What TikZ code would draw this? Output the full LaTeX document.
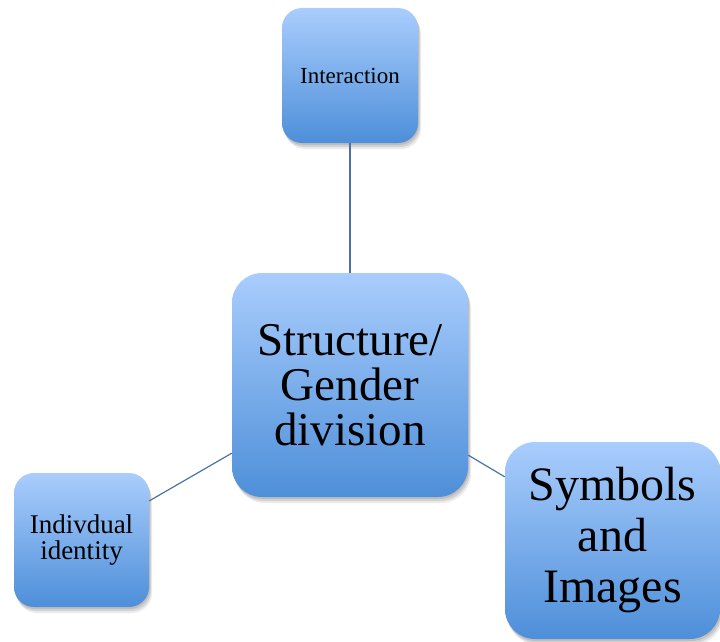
\documentclass[tikz,border=0pt]{standalone}
\usepackage{fontspec}
\setmainfont{Liberation Serif}
\usetikzlibrary{shadows}
\definecolor{boxtop}{HTML}{A9CDFD}
\definecolor{boxbot}{HTML}{4E8FD9}
\definecolor{linkblue}{HTML}{4A72A8}
\tikzset{
  conceptbox/.style={rectangle, rounded corners=#1, top color=boxtop, bottom color=boxbot,
    draw=none, align=center, inner sep=0pt, text=black,
    preaction={fill=black, fill opacity=0.10, transform canvas={shift={(1pt,-2pt)}}},
    preaction={fill=black, fill opacity=0.10, transform canvas={shift={(2pt,-4pt)}}},
    preaction={fill=black, fill opacity=0.08, transform canvas={shift={(3pt,-6pt)}}}},
  link/.style={draw=linkblue, line width=1.2pt}
}
\begin{document}
\begin{tikzpicture}[x=1pt,y=-1pt]
\useasboundingbox (0,0) rectangle (720,642);
\node[conceptbox=20pt, minimum width=136pt, minimum height=135pt,
      font=\fontsize{23}{26}\selectfont] (inter) at (350,75.5) {Interaction};
\node[conceptbox=30pt, minimum width=236pt, minimum height=224pt,
      font=\fontsize{47}{45}\selectfont] (core) at (350,385) {Structure/\\Gender\\division};
\node[conceptbox=20pt, minimum width=135pt, minimum height=134pt,
      font=\fontsize{27}{26.5}\selectfont] (indiv) at (81.5,540) {Indivdual\\identity};
\node[conceptbox=30pt, minimum width=215pt, minimum height=197pt,
      font=\fontsize{48}{51}\selectfont] (symb) at (612.5,540.5) {Symbols\\and\\Images};
\draw[link] (inter) -- (core);
\draw[link] (core) -- (indiv);
\draw[link] (core) -- (symb);
\end{tikzpicture}
\end{document}
